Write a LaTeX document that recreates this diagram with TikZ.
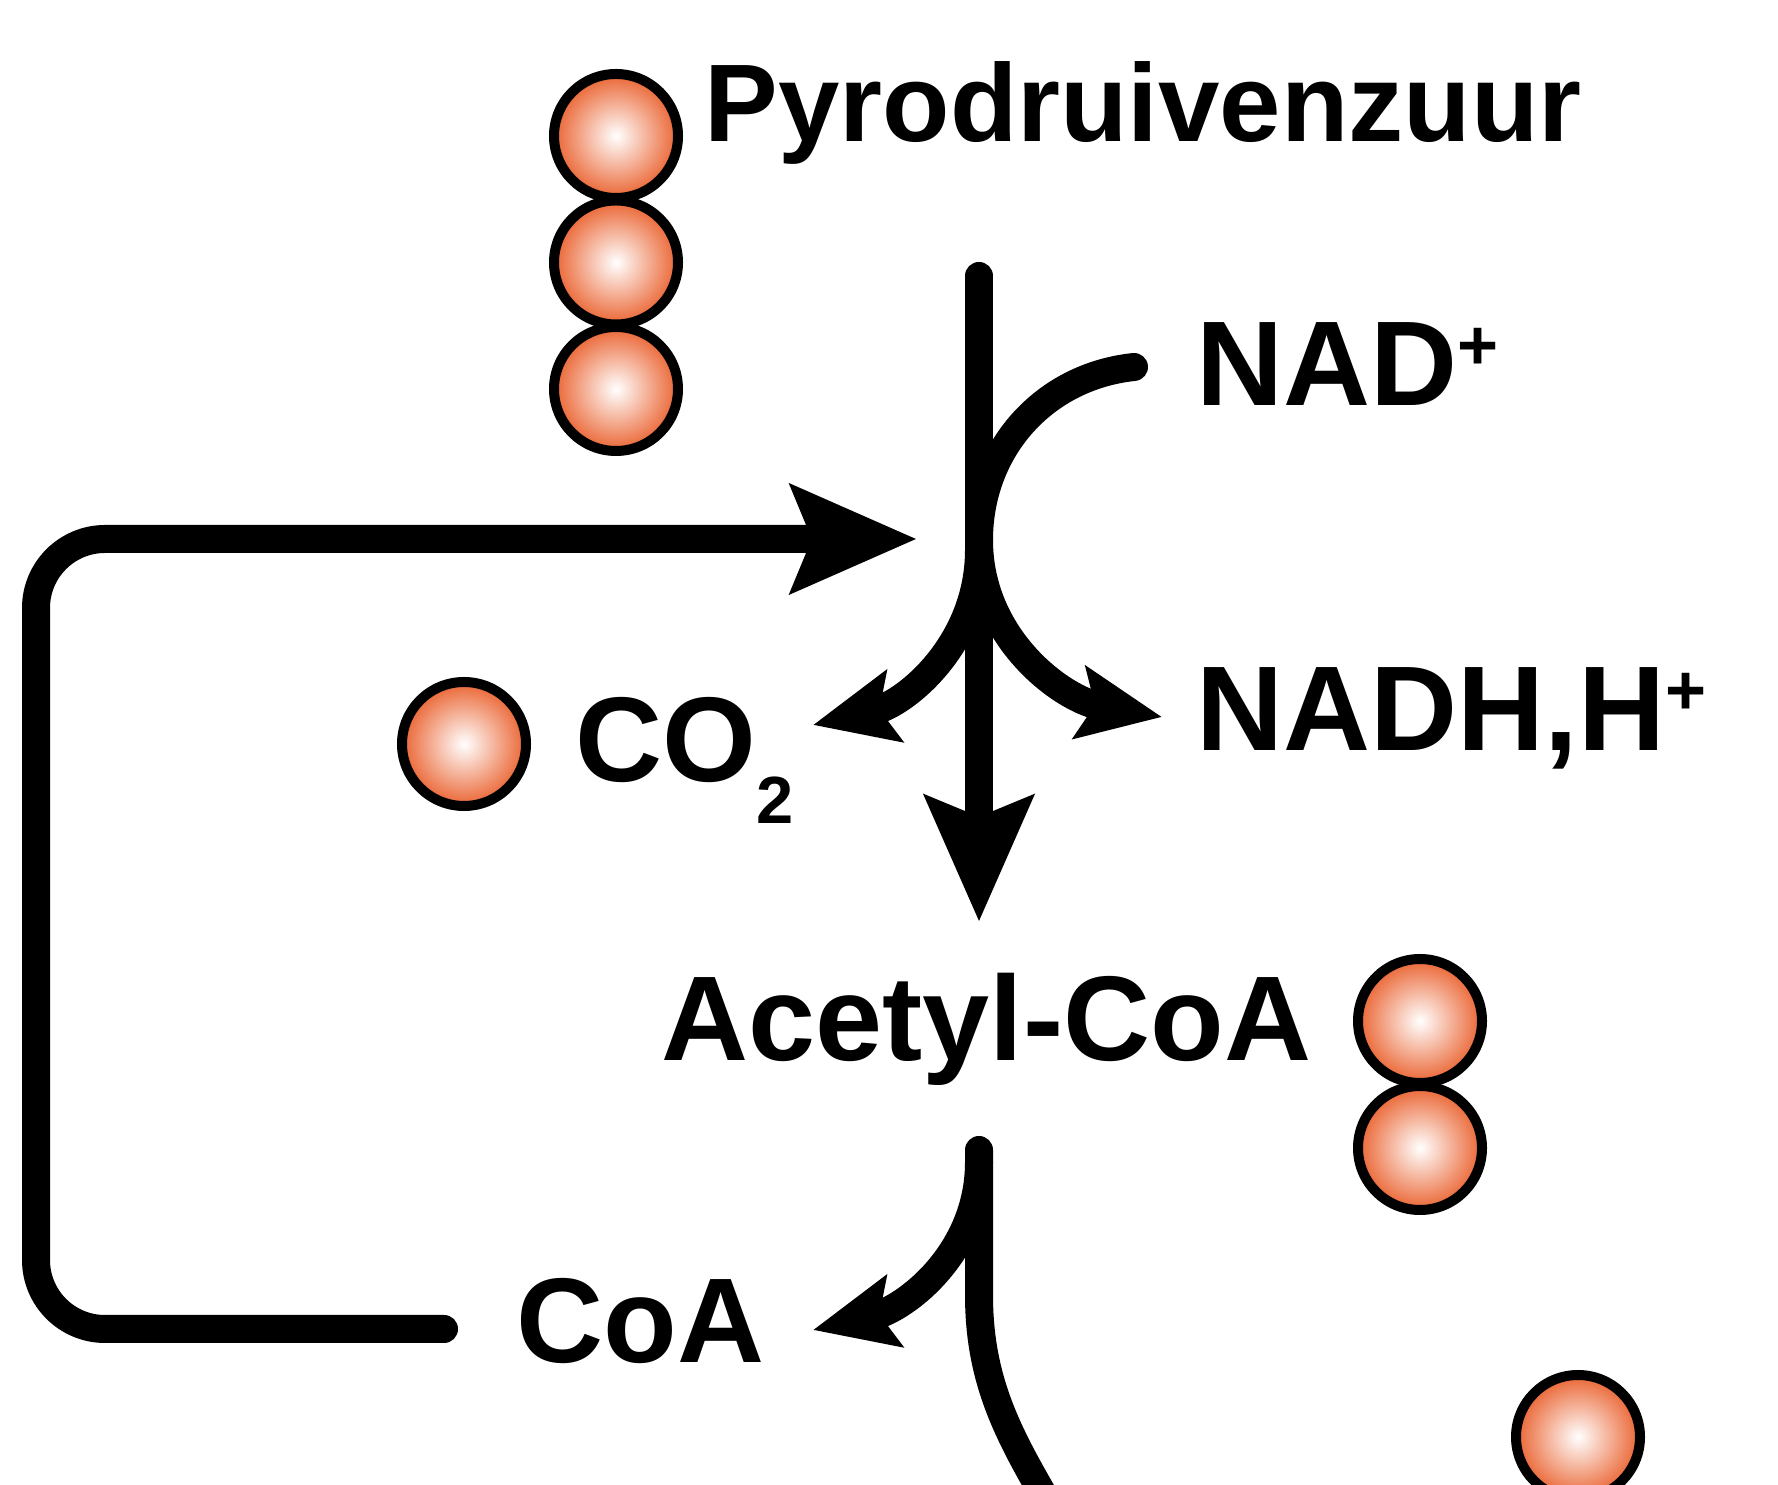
\documentclass[tikz,border=0pt]{standalone}
\usepackage{fontspec}
\setmainfont{Liberation Sans}
\usetikzlibrary{arrows.meta}

\definecolor{ballorange}{RGB}{234,100,50}
\newcommand{\ionplus}{\raisebox{0.36cm}{\fontsize{20}{20}\selectfont +}}
\newcommand{\subtwo}{\raisebox{-0.42cm}{\fontsize{19}{19}\selectfont 2}}

\tikzset{
    orb/.style={circle, draw, line width=0.10cm, minimum size=1.24cm, inner sep=0pt,
        inner color=white, outer color=ballorange},
    lbl/.style={inner sep=0pt, anchor=base west, font=\fontsize{34.3}{40}\selectfont\bfseries},
    flow/.style={line width=0.28cm, line cap=round},
    bigtip/.style={-{Stealth[length=1.25cm, width=1.06cm, inset=0.2cm]}},
    smalltip/.style={-{Stealth[length=0.83cm, width=0.72cm, inset=0.15cm]}}
}

\begin{document}
\begin{tikzpicture}
        \useasboundingbox (0,0) rectangle (17.78,-14.85);

        % Pyrodruivenzuur:
        \node(P1)[orb] at (6.16,-1.36) {};
        \node(P2)[orb] at (6.16,-2.625) {};
        \node(P3)[orb] at (6.16,-3.89) {};
        \node(PYR)[lbl, font=\fontsize{31.4}{36}\selectfont\bfseries] at (7.04,-1.42) {Pyrodruivenzuur};

        % main line:
        \coordinate (Mtop) at (9.79,-2.76);
        \coordinate (Mtouch) at (9.79,-5.40);
        \coordinate (Mlow) at (9.79,-5.50);
        \coordinate (Mtip) at (9.79,-9.22);
        \draw[flow, bigtip] (Mtop) -- (Mtip);

        % NAD+ -> NADH,H+:
        \node(NAD)[lbl] at (11.96,-4.06) {NAD\ionplus};
        \node(NADH)[lbl] at (11.96,-7.51) {NADH,H\ionplus};
        \coordinate (NADin) at (11.34,-3.67);
        \coordinate (NADHtip) at (11.62,-7.17);
        \draw[flow, smalltip] (NADin) to [out=186, in=90] (Mtouch) to [out=270, in=170] (NADHtip);

        % CO2:
        \node(C1)[orb] at (4.64,-7.44) {};
        \node(CO2)[lbl] at (5.75,-7.82) {CO\subtwo};
        \coordinate (COtip) at (8.13,-7.25);
        \draw[flow, smalltip] (Mlow) to [out=270, in=13] (COtip);

        % Acetyl-CoA:
        \node(ACOA)[lbl] at (6.61,-10.61) {Acetyl-CoA};
        \node(A1)[orb] at (14.20,-10.21) {};
        \node(A2)[orb] at (14.20,-11.48) {};

        % CoA:
        \coordinate (Ltop) at (9.79,-11.50);
        \coordinate (Lsplit) at (9.79,-11.62);
        \coordinate (Lbend) at (9.79,-12.95);
        \coordinate (Lout) at (10.80,-15.60);
        \draw[flow] (Ltop) -- (Lbend) to [out=270, in=118] (Lout);
        \node(COA)[lbl] at (5.16,-13.63) {CoA};
        \coordinate (CoAtip) at (8.13,-13.30);
        \draw[flow, smalltip] (Lsplit) to [out=270, in=13] (CoAtip);
        \node(X1)[orb] at (15.78,-14.37) {};

        % CoA back to the start:
        \coordinate (CoAend) at (4.44,-13.29);
        \coordinate (Lcorner) at (0.36,-5.39);
        \coordinate (Rtip) at (9.17,-5.39);
        \draw[flow, bigtip, rounded corners=0.69cm] (CoAend) -| (Lcorner) -- (Rtip);

\end{tikzpicture}
\end{document}
